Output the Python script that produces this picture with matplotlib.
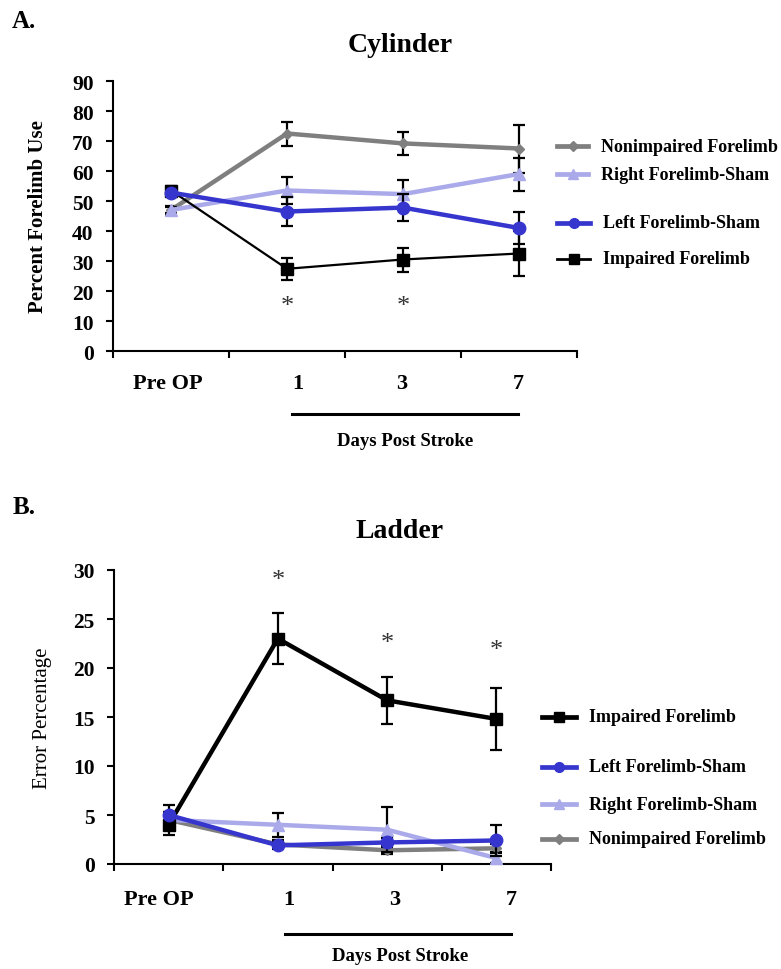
import numpy as np
import matplotlib
matplotlib.use('Agg')
from matplotlib import pyplot as plt
from matplotlib.lines import Line2D
from matplotlib.transforms import blended_transform_factory

plt.rcParams['font.family'] = ['Liberation Serif', 'DejaVu Serif']

# categories on the x axis
categories = ['Pre OP', '1', '3', '7']

# Cylinder test: percent forelimb use (mean, error)
cyl_nonimpaired = [47.0, 72.5, 69.2, 67.5]
cyl_nonimpaired_err = [1.5, 4.0, 3.8, 8.0]
cyl_right_sham = [47.0, 53.5, 52.3, 59.0]
cyl_right_sham_err = [1.0, 4.5, 4.8, 5.5]
cyl_left_sham = [52.8, 46.5, 47.8, 41.0]
cyl_left_sham_err = [1.0, 4.8, 4.5, 5.2]
cyl_impaired = [53.5, 27.4, 30.5, 32.5]
cyl_impaired_err = [1.5, 3.6, 4.0, 7.5]
cyl_star_days = [1, 2]
cyl_star_level = [15.0, 15.0]

# Ladder test: error percentage (mean, error)
lad_impaired = [4.0, 23.0, 16.7, 14.8]
lad_impaired_err = [1.0, 2.6, 2.4, 3.2]
lad_left_sham = [5.0, 1.9, 2.2, 2.4]
lad_left_sham_err = [1.0, 0.4, 0.5, 1.6]
lad_right_sham = [4.5, 4.0, 3.5, 0.6]
lad_right_sham_err = [0.8, 1.2, 2.3, 0.5]
lad_nonimpaired = [4.5, 2.0, 1.4, 1.6]
lad_nonimpaired_err = [0.8, 0.4, 0.4, 0.4]
lad_star_days = [1, 2, 3]
lad_star_level = [29.0, 22.6, 21.8]

GRAY = '#7f7f7f'
LIGHT = '#aaaaea'
BLUE = '#3636cf'
BLACK = '#000000'

W, H = 781, 970
fig = plt.figure(figsize=(W / 100, H / 100), dpi=100)


def fx(px):
    return px / W


def fy(py):
    return 1 - py / H


def series(ax, vals, errs, color, marker, ms, lw, z):
    x = np.arange(len(vals)) + 0.5
    ax.errorbar(x, vals, yerr=errs, fmt='none', ecolor='k', elinewidth=1.6,
                capsize=4, capthick=1.6, zorder=z - 0.5, clip_on=False)
    ax.plot(x, vals, color=color, marker=marker, ms=ms, lw=lw, zorder=z,
            clip_on=False)


def style_axes(ax, ymax, ystep):
    ax.set_xlim(0, 4)
    ax.set_ylim(0, ymax)
    ax.set_yticks(np.arange(0, ymax + 1, ystep))
    ax.set_xticks(np.arange(0, 5))
    ax.set_xticklabels([])
    for s in ['top', 'right']:
        ax.spines[s].set_visible(False)
    for s in ['left', 'bottom']:
        ax.spines[s].set_linewidth(1.5)
    ax.tick_params(axis='both', direction='out', length=5, width=1.5)
    ax.tick_params(axis='y', pad=9, labelsize=15.5)
    for lab in ax.get_yticklabels():
        lab.set_fontweight('bold')


def legend_entry(color, marker, ms, lw, label, x0, x1, ytop, size=13):
    xm = (x0 + x1) / 2
    fig.add_artist(Line2D([fx(x0), fx(x1)], [fy(ytop), fy(ytop)], color=color, lw=lw))
    fig.add_artist(Line2D([fx(xm)], [fy(ytop)], color=color, marker=marker, ms=ms))
    fig.text(fx(x1 + 13), fy(ytop), label, fontsize=size, fontweight='bold',
             va='center', ha='left')


def day_labels(ax, xpos, ypx, size):
    trans = blended_transform_factory(ax.transData, fig.transFigure)
    for xp, lab in zip(xpos, categories):
        ax.text(xp, fy(ypx), lab, fontsize=size, fontweight='bold', ha='center',
                va='center', transform=trans)


def stars(ax, days, levels):
    for d, lvl in zip(days, levels):
        ax.text(d + 0.5, lvl, '*', fontsize=19, ha='center', va='center',
                color='#333333')


# ---------------- Cylinder ----------------
ax1 = fig.add_axes([fx(113), fy(352), fx(577 - 113), (352 - 82) / H])
series(ax1, cyl_nonimpaired, cyl_nonimpaired_err, GRAY, 'D', 5.5, 3.2, 3)
series(ax1, cyl_right_sham, cyl_right_sham_err, LIGHT, '^', 8, 3.2, 4)
series(ax1, cyl_impaired, cyl_impaired_err, BLACK, 's', 9, 1.6, 5)
series(ax1, cyl_left_sham, cyl_left_sham_err, BLUE, 'o', 9, 3.2, 6)
style_axes(ax1, 90, 10)
stars(ax1, cyl_star_days, cyl_star_level)
day_labels(ax1, [0.47, 1.59, 2.49, 3.49], 384, 16)

fig.add_artist(Line2D([fx(292), fx(518)], [fy(415), fy(415)], color='k', lw=2.2))
fig.text(fx(405), fy(442), 'Days Post Stroke', fontsize=13.5, fontweight='bold',
         ha='center', va='center')
fig.text(fx(400), fy(45), 'Cylinder', fontsize=20, fontweight='bold',
         ha='center', va='center')
fig.text(fx(24), fy(22), 'A.', fontsize=18, fontweight='bold', ha='center', va='center')
fig.text(fx(38), fy(217), 'Percent Forelimb Use', fontsize=15, fontweight='bold',
         rotation=90, ha='center', va='center')

legend_entry(GRAY, 'D', 5, 3.4, 'Nonimpaired Forelimb', 557, 588, 147)
legend_entry(LIGHT, '^', 6.5, 3.4, 'Right Forelimb-Sham', 557, 588, 175)
legend_entry(BLUE, 'o', 7, 3.4, 'Left Forelimb-Sham', 557, 590, 224)
legend_entry(BLACK, 's', 7, 2, 'Impaired Forelimb', 557, 590, 260)

# ---------------- Ladder ----------------
ax2 = fig.add_axes([fx(114), fy(865), fx(551 - 114), (865 - 571) / H])
series(ax2, lad_nonimpaired, lad_nonimpaired_err, GRAY, 'D', 5.5, 3.2, 3)
series(ax2, lad_right_sham, lad_right_sham_err, LIGHT, '^', 8, 3.2, 4)
series(ax2, lad_impaired, lad_impaired_err, BLACK, 's', 9, 3.2, 5)
series(ax2, lad_left_sham, lad_left_sham_err, BLUE, 'o', 9, 3.2, 6)
style_axes(ax2, 30, 5)
stars(ax2, lad_star_days, lad_star_level)
day_labels(ax2, [0.41, 1.60, 2.57, 3.64], 900, 16)

fig.add_artist(Line2D([fx(285), fx(511)], [fy(935), fy(935)], color='k', lw=2.2))
fig.text(fx(400), fy(957), 'Days Post Stroke', fontsize=13.5, fontweight='bold',
         ha='center', va='center')
fig.text(fx(400), fy(532), 'Ladder', fontsize=20, fontweight='bold',
         ha='center', va='center')
fig.text(fx(24), fy(508), 'B.', fontsize=18, fontweight='bold', ha='center', va='center')
fig.text(fx(42), fy(718), 'Error Percentage', fontsize=15,
         rotation=90, ha='center', va='center')

legend_entry(BLACK, 's', 7, 3.4, 'Impaired Forelimb', 542, 576, 718)
legend_entry(BLUE, 'o', 7, 3.4, 'Left Forelimb-Sham', 542, 576, 768)
legend_entry(LIGHT, '^', 6.5, 3.4, 'Right Forelimb-Sham', 542, 576, 805)
legend_entry(GRAY, 'D', 5, 3.4, 'Nonimpaired Forelimb', 542, 576, 840)

fig.savefig('out.png', dpi=100)
